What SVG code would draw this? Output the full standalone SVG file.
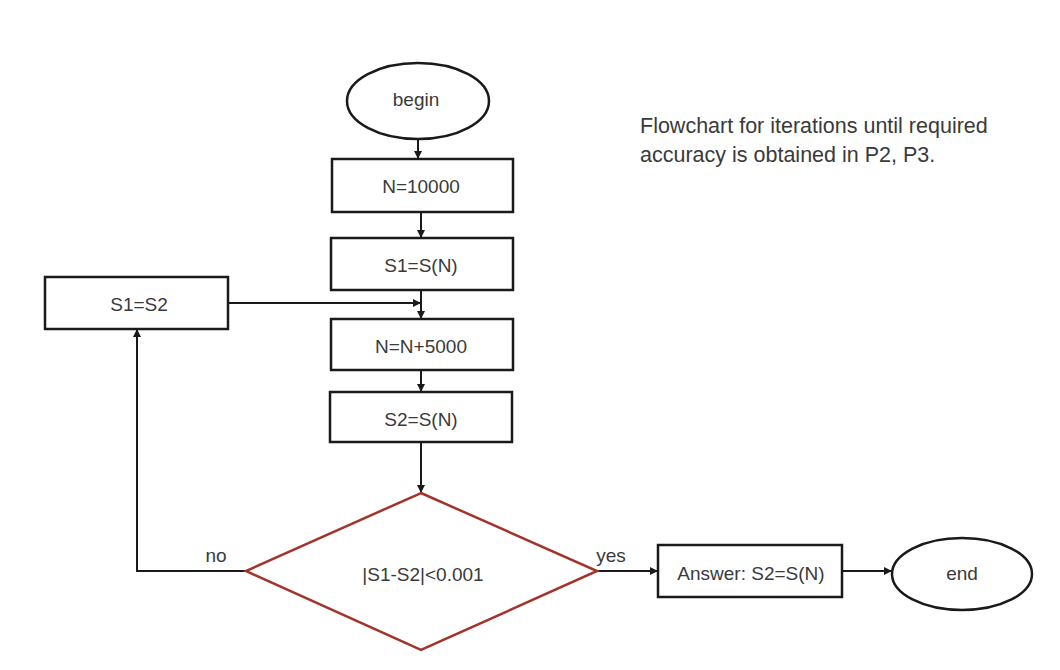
<svg xmlns="http://www.w3.org/2000/svg" width="1060" height="670" viewBox="0 0 1060 670">
<style>
.box{fill:#fff;stroke:#1a1a1a;stroke-width:2.5}
.dia{fill:#fff;stroke:#a2342c;stroke-width:2.5}
.lbl{font-family:"Liberation Sans",Arial,sans-serif;font-size:19px;fill:#3a3a3a;text-anchor:middle;dominant-baseline:central}
.note{font-family:"Liberation Sans",Arial,sans-serif;font-size:21.5px;fill:#3a3a3a}
.edge{fill:none;stroke:#1a1a1a;stroke-width:2}
</style>
<defs>
<marker id="ah" viewBox="0 0 10 10" refX="10" refY="5" markerWidth="4" markerHeight="4" orient="auto" markerUnits="strokeWidth">
<path d="M0,0 L10,5 L0,10 z" fill="#1a1a1a"/>
</marker>
</defs>
<rect width="1060" height="670" fill="#fff"/>
<g id="connectors">
<path class="edge" d="M418,139 V159" marker-end="url(#ah)"/>
<path class="edge" d="M421,212 V238" marker-end="url(#ah)"/>
<path class="edge" d="M421,290 V319" marker-end="url(#ah)"/>
<path class="edge" d="M228,303 H421" marker-end="url(#ah)"/>
<path class="edge" d="M421,370 V392" marker-end="url(#ah)"/>
<path class="edge" d="M421,442 V493" marker-end="url(#ah)"/>
<path class="edge" d="M246,571 H137 V329" marker-end="url(#ah)"/>
<path class="edge" d="M597,571 H658" marker-end="url(#ah)"/>
<path class="edge" d="M842,571 H892" marker-end="url(#ah)"/>
</g>
<g id="begin"><ellipse class="box" cx="418" cy="101" rx="71" ry="38"/><text class="lbl" x="416" y="99">begin</text></g>
<g id="n10000"><rect class="box" x="332" y="159" width="181" height="53"/><text class="lbl" x="421" y="186">N=10000</text></g>
<g id="s1sn"><rect class="box" x="331" y="238" width="182" height="52"/><text class="lbl" x="421" y="265">S1=S(N)</text></g>
<g id="s1s2"><rect class="box" x="45" y="277" width="183" height="52"/><text class="lbl" x="139" y="304">S1=S2</text></g>
<g id="nn5000"><rect class="box" x="331" y="319" width="182" height="51"/><text class="lbl" x="421" y="346">N=N+5000</text></g>
<g id="s2sn"><rect class="box" x="330" y="392" width="182" height="50"/><text class="lbl" x="421" y="419">S2=S(N)</text></g>
<g id="decision"><polygon class="dia" points="421,493 597,571 421,650 246,571"/><text class="lbl" x="423" y="574">|S1-S2|&lt;0.001</text></g>
<g id="answer"><rect class="box" x="658" y="545" width="184" height="52"/><text class="lbl" x="751" y="573">Answer: S2=S(N)</text></g>
<g id="end"><ellipse class="box" cx="962" cy="574" rx="70" ry="36"/><text class="lbl" x="962" y="573">end</text></g>
<text class="lbl" x="216" y="555">no</text>
<text class="lbl" x="611" y="555">yes</text>
<text class="note" x="640" y="133">Flowchart for iterations until required</text>
<text class="note" x="640" y="162">accuracy is obtained in P2, P3.</text>
</svg>
